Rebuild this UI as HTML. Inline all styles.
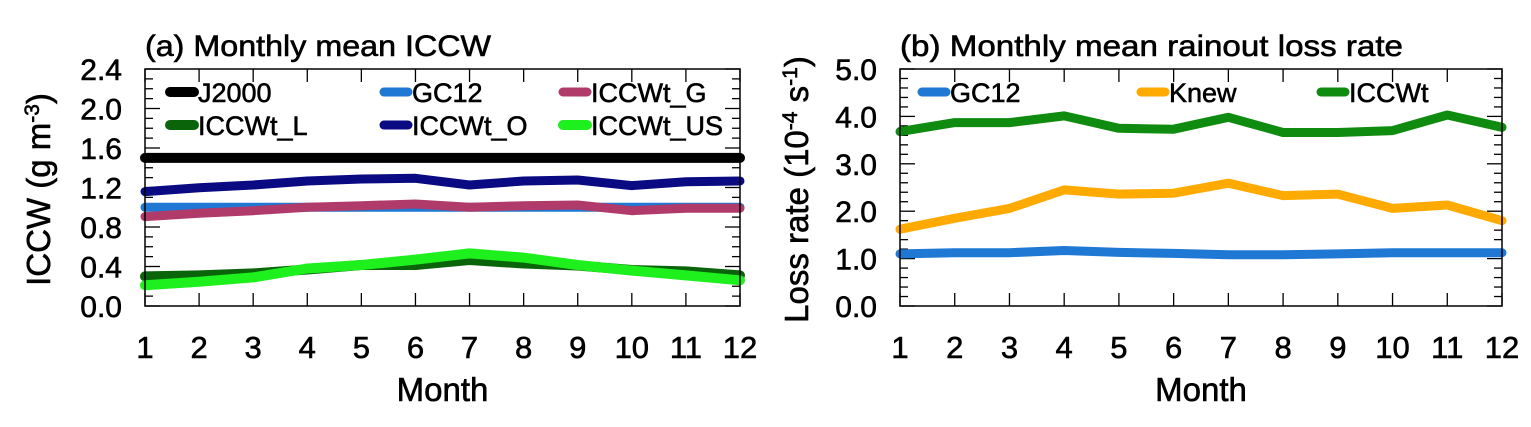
<!DOCTYPE html>
<html><head><meta charset="utf-8"><style>
html,body{margin:0;padding:0;background:#fff;}
svg{display:block;font-family:"Liberation Sans",Arial,sans-serif;}
svg text{stroke:#000;stroke-width:0.6px;}
</style></head><body>
<svg id="chart" width="1531" height="427" viewBox="0 0 1531 427" xmlns="http://www.w3.org/2000/svg"></svg>
<script>
const months = [1,2,3,4,5,6,7,8,9,10,11,12];
const aJ2000 = [1.5,1.5,1.5,1.5,1.5,1.5,1.5,1.5,1.5,1.5,1.5,1.5];
const aGC12 = [1.0,1.0,1.0,1.0,1.0,1.0,1.0,1.0,1.0,1.0,1.0,1.0];
const aICCWtG = [0.905,0.94,0.965,1.0,1.016,1.033,1.0,1.016,1.023,0.965,0.99,0.99];
const aICCWtO = [1.158,1.198,1.225,1.266,1.286,1.293,1.225,1.266,1.276,1.219,1.259,1.266];
const aICCWtL = [0.30,0.31,0.33,0.37,0.415,0.415,0.466,0.43,0.41,0.365,0.35,0.31];
const aICCWtUS = [0.21,0.245,0.29,0.38,0.415,0.47,0.533,0.49,0.415,0.358,0.31,0.26];
const bGC12 = [1.10,1.125,1.125,1.17,1.13,1.11,1.08,1.08,1.10,1.125,1.125,1.125];
const bKnew = [1.62,1.85,2.06,2.45,2.36,2.38,2.59,2.33,2.36,2.06,2.13,1.80];
const bICCWt = [3.68,3.87,3.87,4.01,3.75,3.73,3.98,3.66,3.66,3.70,4.03,3.77];
const aTicks = ["0.0","0.4","0.8","1.2","1.6","2.0","2.4"];
const bTicks = ["0.0","1.0","2.0","3.0","4.0","5.0"];

const NS="http://www.w3.org/2000/svg";
const svg=document.getElementById('chart');
function mk(tag,attrs,parent,txt){const e=document.createElementNS(NS,tag);for(const k in attrs)e.setAttribute(k,attrs[k]);if(txt!==undefined)e.textContent=txt;(parent||svg).appendChild(e);return e;}

function panel(cfg){
  const g=mk('g',{});
  
  
  const L=cfg.x0,R=cfg.x1,T=69,B=306;
  const xs=m=>L+(m-1)/11*(R-L);
  const ys=v=>B-v/cfg.ymax*(B-T);
  const t=mk('text',{x:L,y:56,'font-size':30,fill:'#000',textLength:cfg.titleLen,lengthAdjust:'spacingAndGlyphs'},g,cfg.title);
  
  
  for(let v=0;v<=cfg.ymax+1e-9;v+=cfg.minor){
    const y=ys(v);
    const isMaj=Math.abs(v/cfg.major-Math.round(v/cfg.major))<1e-6;
    const len=isMaj?15:8;
    mk('line',{x1:L,x2:L+len,y1:y,y2:y,stroke:'#000','stroke-width':1.3},g);
    mk('line',{x1:R,x2:R-len,y1:y,y2:y,stroke:'#000','stroke-width':1.3},g);
  }
  cfg.ticks.forEach(lbl=>{
    const tl=mk('text',{x:L-23,y:ys(parseFloat(lbl))+11,'font-size':30,'text-anchor':'end',fill:'#000'},g,lbl);
    
    
  });
  months.forEach(m=>{
    const x=xs(m);
    mk('line',{x1:x,x2:x,y1:B,y2:B-13,stroke:'#000','stroke-width':1.3},g);
    mk('line',{x1:x,x2:x,y1:T,y2:T+13,stroke:'#000','stroke-width':1.3},g);
    const xl=mk('text',{x:x,y:358,'font-size':31,'text-anchor':'middle',fill:'#000'},g,String(m));
    
    
  });
  const xt=mk('text',{x:(L+R)/2,y:401,'font-size':33,'text-anchor':'middle',fill:'#000'},g,'Month');
  
  
  const yt=mk('text',{x:0,y:0,'font-size':33,'text-anchor':'middle',fill:'#000',transform:`translate(${cfg.ytx},${(T+B)/2+2}) rotate(-90)`},g);
  
  
  cfg.yparts.forEach(p=>{
    if(p[1]) mk('tspan',{'baseline-shift':'super','font-size':21},yt,p[0]);
    else mk('tspan',{},yt,p[0]);
  });
  cfg.series.forEach(s=>{
    const d=s.data.map((v,i)=>(i?'L':'M')+xs(months[i]).toFixed(1)+' '+ys(v).toFixed(1)).join(' ');
    const p=mk('path',{d:d,fill:'none',stroke:s.color,'stroke-width':s.w||9,'stroke-linejoin':'round','stroke-linecap':'round'},g);
    
    
    const lx=s.lx,ly=s.ly;
    const le=mk('g',{},g);
    
    
    mk('line',{x1:lx,x2:lx+24,y1:ly,y2:ly,stroke:s.color,'stroke-width':s.w||9,'stroke-linecap':'round'},le);
    mk('text',{x:lx+28,y:ly+10,'font-size':27,fill:'#000'},le,s.label);
  });
  const fr=mk('rect',{x:L,y:T,width:R-L,height:B-T,fill:'none',stroke:'#000','stroke-width':1.5},g);
  
  
}
panel({name:'panel-a',x0:145,x1:740,ymax:2.4,minor:0.1,major:0.4,ticks:aTicks,title:'(a) Monthly mean ICCW',titleLen:346,ytx:50,yparts:[['ICCW (g m',0],['-3',1],[')',0]],
 series:[
  {key:'gc12',data:aGC12,color:'#1e78d4',label:'GC12',lx:384,ly:92},
  {key:'iccwt-g',data:aICCWtG,color:'#b03b6a',label:'ICCWt_G',lx:563,ly:92},
  {key:'iccwt-o',data:aICCWtO,color:'#0a0a82',label:'ICCWt_O',lx:384,ly:125},
  {key:'iccwt-l',data:aICCWtL,color:'#0a640a',label:'ICCWt_L',lx:170,ly:125,w:10},
  {key:'iccwt-us',data:aICCWtUS,color:'#1ef01e',label:'ICCWt_US',lx:563,ly:125,w:10},
  {key:'j2000',data:aJ2000,color:'#000',label:'J2000',lx:170,ly:92,w:10}
 ]});
panel({name:'panel-b',x0:900,x1:1502,ymax:5,minor:0.2,major:1.0,ticks:bTicks,title:'(b) Monthly mean rainout loss rate',titleLen:503,ytx:808,yparts:[['Loss rate (10',0],['-4',1],[' s',0],['-1',1],[')',0]],
 series:[
  {key:'gc12',data:bGC12,color:'#1e78d4',label:'GC12',lx:922,ly:92},
  {key:'knew',data:bKnew,color:'#ffaa00',label:'Knew',lx:1141,ly:92},
  {key:'iccwt',data:bICCWt,color:'#0f8c0f',label:'ICCWt',lx:1321,ly:92}
 ]});
</script>
</body></html>
